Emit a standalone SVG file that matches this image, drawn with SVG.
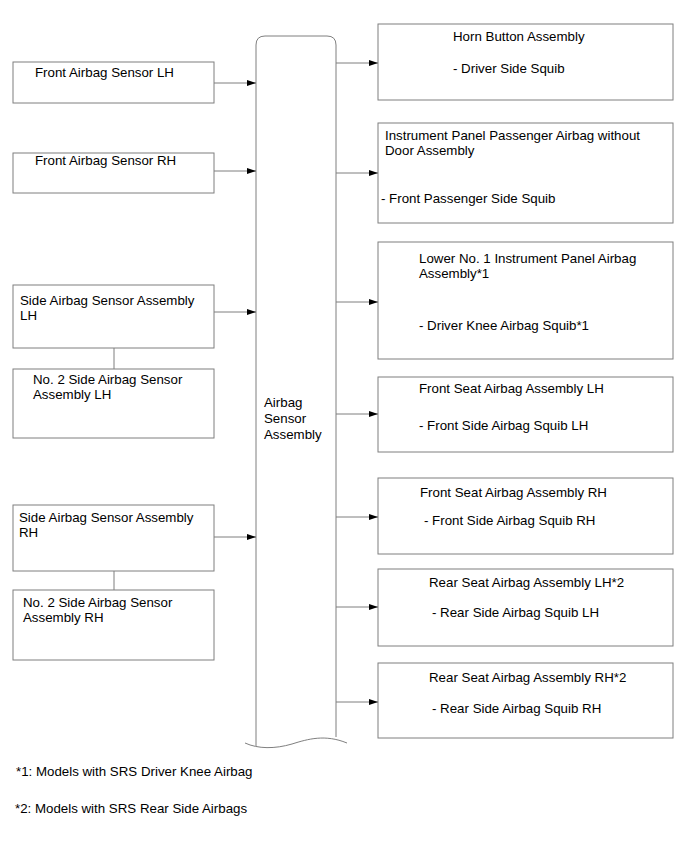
<svg xmlns="http://www.w3.org/2000/svg" width="690" height="855" viewBox="0 0 690 855">
<style>
.box{fill:#fff;stroke:#7f7f7f;stroke-width:1}
.ln{fill:none;stroke:#7f7f7f;stroke-width:1}
.ar{fill:none;stroke:#7f7f7f;stroke-width:1;marker-end:url(#ah)}
text{font-family:"Liberation Sans",Arial,sans-serif;font-size:13.3px;fill:#000}
</style>
<defs>
<marker id="ah" markerUnits="userSpaceOnUse" markerWidth="9" markerHeight="7" refX="9" refY="3.5" orient="auto">
<path d="M0,0.5 L9,3.5 L0,6.5 Z" fill="#000"/>
</marker>
</defs>
<rect width="690" height="855" fill="#fff"/>

<g id="airbag-sensor-assembly">
<path class="ln" d="M256,746 L256,45 Q256,36 265,36 L327,36 Q336,36 336,45 L336,737"/>
<path class="ln" d="M245,743 C258,749 275,749 292,744 C308,739 325,734 347,743"/>
<text x="264" y="407">Airbag</text>
<text x="264" y="423">Sensor</text>
<text x="264" y="439">Assembly</text>
</g>

<g id="front-sensor-lh">
<rect class="box" x="13" y="62" width="201" height="41"/>
<text x="35" y="77">Front Airbag Sensor LH</text>
</g>
<g id="front-sensor-rh">
<rect class="box" x="13" y="153" width="201" height="40"/>
<text x="35" y="165">Front Airbag Sensor RH</text>
</g>
<g id="side-sensor-lh">
<rect class="box" x="13" y="285" width="201" height="63"/>
<text x="20" y="305">Side Airbag Sensor Assembly</text>
<text x="20" y="320">LH</text>
</g>
<g id="no2-side-sensor-lh">
<rect class="box" x="13" y="369" width="201" height="69"/>
<text x="33" y="384">No. 2 Side Airbag Sensor</text>
<text x="33" y="399">Assembly LH</text>
</g>
<g id="side-sensor-rh">
<rect class="box" x="13" y="505" width="201" height="66"/>
<text x="19" y="522">Side Airbag Sensor Assembly</text>
<text x="19" y="537">RH</text>
</g>
<g id="no2-side-sensor-rh">
<rect class="box" x="13" y="590" width="201" height="70"/>
<text x="23" y="607">No. 2 Side Airbag Sensor</text>
<text x="23" y="622">Assembly RH</text>
</g>

<g id="horn-button">
<rect class="box" x="378" y="24" width="295" height="76"/>
<text x="453" y="41">Horn Button Assembly</text>
<text x="453" y="73">- Driver Side Squib</text>
</g>
<g id="ip-passenger-airbag">
<rect class="box" x="378" y="123" width="295" height="100"/>
<text x="385" y="140">Instrument Panel Passenger Airbag without</text>
<text x="385" y="155">Door Assembly</text>
<text x="381" y="203">- Front Passenger Side Squib</text>
</g>
<g id="lower-no1-ip-airbag">
<rect class="box" x="378" y="242" width="295" height="117"/>
<text x="419" y="263">Lower No. 1 Instrument Panel Airbag</text>
<text x="419" y="278">Assembly*1</text>
<text x="419" y="330">- Driver Knee Airbag Squib*1</text>
</g>
<g id="front-seat-lh">
<rect class="box" x="378" y="377" width="295" height="75"/>
<text x="419" y="393">Front Seat Airbag Assembly LH</text>
<text x="419" y="430">- Front Side Airbag Squib LH</text>
</g>
<g id="front-seat-rh">
<rect class="box" x="378" y="478" width="295" height="76"/>
<text x="420" y="497">Front Seat Airbag Assembly RH</text>
<text x="424" y="525">- Front Side Airbag Squib RH</text>
</g>
<g id="rear-seat-lh">
<rect class="box" x="378" y="569" width="295" height="77"/>
<text x="429" y="587">Rear Seat Airbag Assembly LH*2</text>
<text x="432" y="617">- Rear Side Airbag Squib LH</text>
</g>
<g id="rear-seat-rh">
<rect class="box" x="378" y="663" width="295" height="75"/>
<text x="429" y="682">Rear Seat Airbag Assembly RH*2</text>
<text x="432" y="713">- Rear Side Airbag Squib RH</text>
</g>

<g id="connectors">
<line class="ar" x1="214" y1="83" x2="256" y2="83"/>
<line class="ar" x1="214" y1="171" x2="256" y2="171"/>
<line class="ar" x1="214" y1="312" x2="256" y2="312"/>
<line class="ar" x1="214" y1="537" x2="256" y2="537"/>
<line class="ln" x1="114" y1="348" x2="114" y2="369"/>
<line class="ln" x1="114" y1="571" x2="114" y2="590"/>
<line class="ar" x1="336" y1="63" x2="378" y2="63"/>
<line class="ar" x1="336" y1="173" x2="378" y2="173"/>
<line class="ar" x1="336" y1="302" x2="378" y2="302"/>
<line class="ar" x1="336" y1="414" x2="378" y2="414"/>
<line class="ar" x1="336" y1="517" x2="378" y2="517"/>
<line class="ar" x1="336" y1="607" x2="378" y2="607"/>
<line class="ar" x1="336" y1="702" x2="378" y2="702"/>
</g>

<g id="footnotes">
<text x="16" y="776">*1: Models with SRS Driver Knee Airbag</text>
<text x="15" y="813">*2: Models with SRS Rear Side Airbags</text>
</g>
</svg>
